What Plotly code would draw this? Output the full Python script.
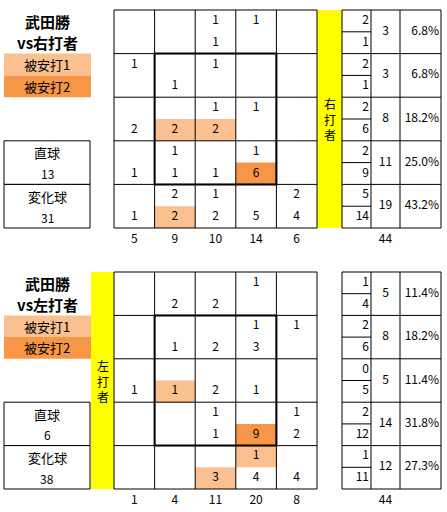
import plotly.graph_objects as go

# 武田勝 コース別被安打 (右打者 / 左打者)
pitcher = "武田勝"
fill1 = "#FAC08F"   # 被安打1
fill2 = "#F79646"   # 被安打2

# 右打者: 5x5 のマス, 上段の数字と下段の数字
r_upper = [[None, None, 1, 1, None],
           [1, None, 1, None, None],
           [None, None, 1, 1, None],
           [None, 1, None, 1, None],
           [None, 2, 1, None, 2]]
r_lower = [[None, None, 1, None, None],
           [None, 1, None, None, None],
           [2, 2, 2, None, None],
           [1, 1, 1, 6, None],
           [1, 2, 2, 5, 4]]
r_hit_upper = [[0] * 5 for _ in range(5)]
r_hit_lower = [[0, 0, 0, 0, 0],
               [0, 0, 0, 0, 0],
               [0, 1, 1, 0, 0],
               [0, 0, 0, 2, 0],
               [0, 1, 0, 0, 0]]
r_col_tot = [5, 9, 10, 14, 6]
r_row_a = [2, 2, 2, 2, 5]
r_row_b = [1, 1, 6, 9, 14]
r_row_tot = [3, 3, 8, 11, 19]
r_row_pct = ["6.8%", "6.8%", "18.2%", "25.0%", "43.2%"]
r_total = 44
r_fast, r_break = 13, 31

# 左打者
l_upper = [[None, None, None, 1, None],
           [None, None, None, 1, 1],
           [None, None, None, None, None],
           [None, None, 1, None, 1],
           [None, None, None, 1, None]]
l_lower = [[None, 2, 2, None, None],
           [None, 1, 2, 3, None],
           [1, 1, 2, 1, None],
           [None, None, 1, 9, 2],
           [None, None, 3, 4, 4]]
l_hit_upper = [[0, 0, 0, 0, 0],
               [0, 0, 0, 0, 0],
               [0, 0, 0, 0, 0],
               [0, 0, 0, 0, 0],
               [0, 0, 0, 1, 0]]
l_hit_lower = [[0, 0, 0, 0, 0],
               [0, 0, 0, 0, 0],
               [0, 1, 0, 0, 0],
               [0, 0, 0, 2, 0],
               [0, 0, 1, 0, 0]]
l_col_tot = [1, 4, 11, 20, 8]
l_row_a = [1, 2, 0, 2, 1]
l_row_b = [4, 6, 5, 12, 11]
l_row_tot = [5, 8, 5, 14, 12]
l_row_pct = ["11.4%", "18.2%", "11.4%", "31.8%", "27.3%"]
l_total = 44
l_fast, l_break = 6, 38

W, H = 447, 512
FONT = "Noto Sans CJK JP"
GX0, CW = 114, 40.6          # grid left, column width
TX = [342, 371, 400, 441]     # right table columns
LB = (4, 91)                  # left boxes

fig = go.Figure()
shapes = []
annots = []


def line(x0, y0, x1, y1, w=1):
    shapes.append(dict(type="line", xref="x", yref="y", x0=x0, y0=y0, x1=x1, y1=y1,
                       line=dict(color="black", width=w)))


def rect(x0, y0, x1, y1, color, border=False):
    shapes.append(dict(type="rect", xref="x", yref="y", x0=x0, y0=y0, x1=x1, y1=y1,
                       fillcolor=color, layer="below",
                       line=dict(color="black" if border else color, width=1 if border else 0)))


def text(x, y, s, size=12, anchor="center", bold=False):
    if bold:
        s = "<b>" + s + "</b>"
    annots.append(dict(x=x, y=y, xref="x", yref="y", text=s, showarrow=False,
                       xanchor=anchor, yanchor="middle",
                       font=dict(family=FONT, size=size, color="black")))


def panel(y0, rh, side, yellow, upper, lower, hu, hl, col_tot, ra, rb, rt, pct, total, fast, brk):
    half = rh / 2
    gx1 = GX0 + 5 * CW
    # 凡例とタイトル
    text(47, y0 + half / 2 + 1, pitcher, 15, bold=True)
    text(47, y0 + half * 1.5, "vs" + side + "打者", 15, bold=True)
    rect(LB[0], y0 + rh, LB[1], y0 + rh + half, fill1)
    rect(LB[0], y0 + rh + half, LB[1], y0 + 2 * rh, fill2)
    text(47, y0 + rh + half / 2, "被安打1", 13)
    text(47, y0 + rh + half * 1.5, "被安打2", 13)
    # 直球 / 変化球
    for k, (lab, v) in enumerate([("直球", fast), ("変化球", brk)]):
        ty = y0 + (3 + k) * rh
        rect(LB[0], ty, LB[1] - 1, ty + rh, "white", border=True)
        text(47, ty + half / 2 + 1, lab, 13)
        text(47, ty + half * 1.5, str(v), 12)
    # 打者の帯
    rect(yellow[0], y0, yellow[1], y0 + 5 * rh, "#FFFF00")
    text((yellow[0] + yellow[1]) / 2, y0 + 2.5 * rh, "<br>".join(side + "打者"), 12)
    # マスの塗り
    for i in range(5):
        for j in range(5):
            for hh, src in ((0, hu), (1, hl)):
                if src[i][j]:
                    rect(GX0 + j * CW, y0 + i * rh + hh * half, GX0 + (j + 1) * CW,
                         y0 + i * rh + (hh + 1) * half, fill1 if src[i][j] == 1 else fill2)
    # マスの線
    for i in range(6):
        line(GX0, y0 + i * rh, gx1, y0 + i * rh)
        line(TX[0], y0 + i * rh, TX[3], y0 + i * rh)
    for j in range(6):
        line(GX0 + j * CW, y0, GX0 + j * CW, y0 + 5 * rh)
    for x in TX:
        line(x, y0, x, y0 + 5 * rh)
    for i in range(5):
        line(TX[0], y0 + i * rh + half, TX[1], y0 + i * rh + half)
    # ストライクゾーン
    shapes.append(dict(type="rect", xref="x", yref="y", x0=GX0 + CW, y0=y0 + rh,
                       x1=GX0 + 4 * CW, y1=y0 + 4 * rh, line=dict(color="black", width=2)))
    # 数字
    xs, ys, ts = [], [], []
    for i in range(5):
        for j in range(5):
            for hh, src in ((0, upper), (1, lower)):
                if src[i][j] is not None:
                    xs.append(GX0 + (j + 0.5) * CW)
                    ys.append(y0 + i * rh + (hh + 0.5) * half)
                    ts.append(str(src[i][j]))
    for j in range(5):
        xs.append(GX0 + (j + 0.5) * CW)
        ys.append(y0 + 5 * rh + 12)
        ts.append(str(col_tot[j]))
    for i in range(5):
        xs.append((TX[1] + TX[2]) / 2)
        ys.append(y0 + (i + 0.5) * rh)
        ts.append(str(rt[i]))
    xs.append((TX[1] + TX[2]) / 2)
    ys.append(y0 + 5 * rh + 12)
    ts.append(str(total))
    fig.add_trace(go.Scatter(x=xs, y=ys, text=ts, mode="text", textposition="middle center",
                             textfont=dict(family=FONT, size=12, color="black"),
                             hoverinfo="skip", showlegend=False))
    rx, ry, rtxt = [], [], []
    for i in range(5):
        rx += [TX[1] - 2, TX[1] - 2, TX[3] - 2]
        ry += [y0 + i * rh + half / 2, y0 + i * rh + half * 1.5, y0 + (i + 0.5) * rh]
        rtxt += [str(ra[i]), str(rb[i]), pct[i]]
    fig.add_trace(go.Scatter(x=rx, y=ry, text=rtxt, mode="text", textposition="middle left",
                             textfont=dict(family=FONT, size=12, color="black"),
                             hoverinfo="skip", showlegend=False))


panel(10, 43.6, "右", (317, 342), r_upper, r_lower, r_hit_upper, r_hit_lower,
      r_col_tot, r_row_a, r_row_b, r_row_tot, r_row_pct, r_total, r_fast, r_break)
panel(272, 43.4, "左", (91, 114), l_upper, l_lower, l_hit_upper, l_hit_lower,
      l_col_tot, l_row_a, l_row_b, l_row_tot, l_row_pct, l_total, l_fast, l_break)

fig.update_layout(width=W, height=H, margin=dict(l=0, r=0, t=0, b=0),
                  paper_bgcolor="white", plot_bgcolor="white",
                  shapes=shapes, annotations=annots, showlegend=False,
                  xaxis=dict(range=[0, W], visible=False, fixedrange=True),
                  yaxis=dict(range=[H, 0], visible=False, fixedrange=True))
fig.write_html("out.html", config={"displayModeBar": False},
               post_script="document.body.style.margin='0';")
